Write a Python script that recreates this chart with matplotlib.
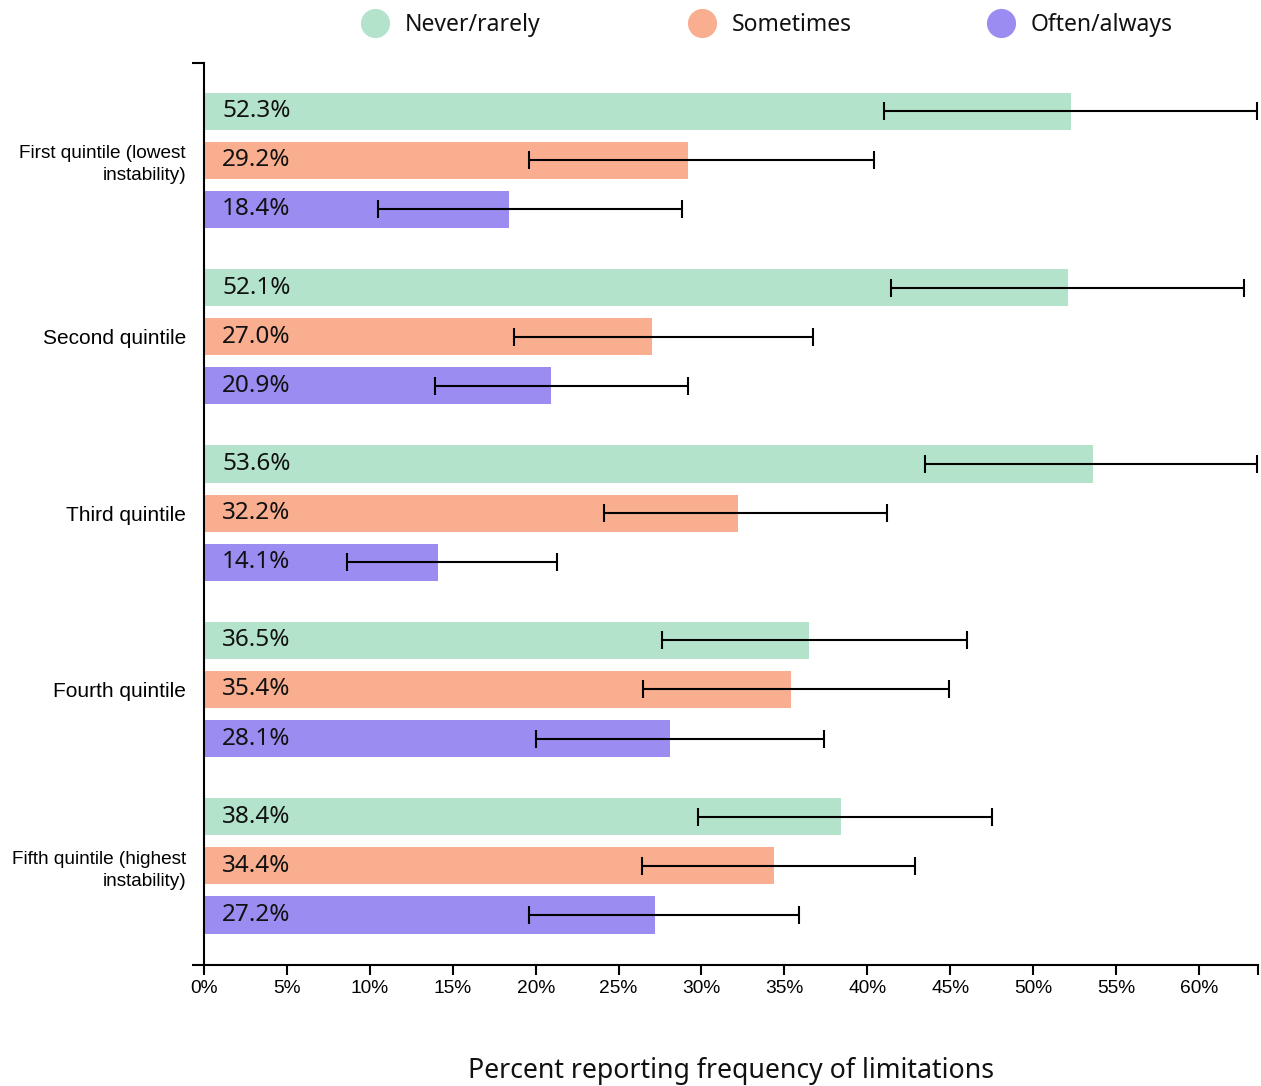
import matplotlib
matplotlib.use("Agg")
import matplotlib.pyplot as plt
from matplotlib.lines import Line2D
import numpy as np

# Quintiles of instability (top to bottom)
groups = ["First quintile (lowest\ninstability)", "Second quintile", "Third quintile",
          "Fourth quintile", "Fifth quintile (highest\ninstability)"]
series = ["Never/rarely", "Sometimes", "Often/always"]
colors = ["#b3e4cb", "#f9ae8f", "#9b8cf2"]

never_vals = [52.3, 52.1, 53.6, 36.5, 38.4]
sometimes_vals = [29.2, 27.0, 32.2, 35.4, 34.4]
often_vals = [18.4, 20.9, 14.1, 28.1, 27.2]

never_lo = [41.0, 41.4, 43.5, 27.6, 29.8]
never_hi = [63.5, 62.7, 63.5, 46.0, 47.5]
sometimes_lo = [19.6, 18.7, 24.1, 26.5, 26.4]
sometimes_hi = [40.4, 36.7, 41.2, 44.9, 42.9]
often_lo = [10.5, 13.9, 8.6, 20.0, 19.6]
often_hi = [28.8, 29.2, 21.3, 37.4, 35.9]

x_ticks = [0, 5, 10, 15, 20, 25, 30, 35, 40, 45, 50, 55, 60]
x_max = 63.56

values = [never_vals, sometimes_vals, often_vals]
lows = [never_lo, sometimes_lo, often_lo]
highs = [never_hi, sometimes_hi, often_hi]

W, H = 1261, 1086
fig = plt.figure(figsize=(W / 100, H / 100), dpi=100)
ax = fig.add_axes([204 / W, 1 - 965 / H, (1258 - 204) / W, (965 - 63) / H])

group_step = 3.6
bar_h = 0.755
centers = np.arange(len(groups)) * group_step

for s, (vals, lo, hi, col) in enumerate(zip(values, lows, highs, colors)):
    ys = centers + (s - 1)
    vals = np.array(vals)
    ax.barh(ys, vals, height=bar_h, color=col, edgecolor="none", zorder=1)
    xerr = np.vstack([vals - np.array(lo), np.array(hi) - vals])
    ax.errorbar(vals, ys, xerr=xerr, fmt="none", ecolor="black", elinewidth=1.5,
                capsize=6.5, capthick=1.5, zorder=3, clip_on=False)
    for y, v in zip(ys, vals):
        ax.text(1.1, y, f"{v:.1f}%", va="center", ha="left", fontsize=17.5,
                family="Noto Sans", color="#111111", zorder=4)

ylo, yhi = centers[0] - 1.98, centers[-1] + 2.02
ax.set_ylim(yhi, ylo)
ax.set_xlim(0, x_max)

ax.set_yticks(centers)
ax.set_yticklabels(groups, family="Liberation Sans", fontsize=15, linespacing=1.35)
for lab in ax.get_yticklabels():
    if "\n" in lab.get_text():
        lab.set_fontsize(13.7)
ax.tick_params(axis="y", which="major", length=0, pad=13)
ax.set_yticks([ylo, yhi], minor=True)
ax.tick_params(axis="y", which="minor", length=8.5, width=1.5, direction="out")

ax.set_xticks(x_ticks)
ax.set_xticklabels([f"{t}%" for t in x_ticks], family="Liberation Sans", fontsize=13.8)
ax.tick_params(axis="x", which="major", length=7, width=1.5, pad=4)
ax.set_xticks([x_max], minor=True)
ax.tick_params(axis="x", which="minor", length=7, width=1.5)

for side in ["top", "right"]:
    ax.spines[side].set_visible(False)
for side in ["left", "bottom"]:
    ax.spines[side].set_linewidth(1.5)

fig.text(731 / W, 1 - 1071 / H, "Percent reporting frequency of limitations",
         ha="center", va="center", fontsize=19.2, family="Noto Sans", color="#111111")

# Legend across the top
legend_x = [375, 702, 1001]
for xp, name, col in zip(legend_x, series, colors):
    fig.add_artist(Line2D([xp / W], [1 - 23 / H], marker="o", markersize=21,
                          markerfacecolor=col, markeredgecolor="none",
                          linestyle="none", transform=fig.transFigure))
    fig.text((xp + 30) / W, 1 - 25 / H, name, ha="left", va="center",
             fontsize=16.5, family="Noto Sans", color="#111111")

fig.savefig("out.png", dpi=100)
